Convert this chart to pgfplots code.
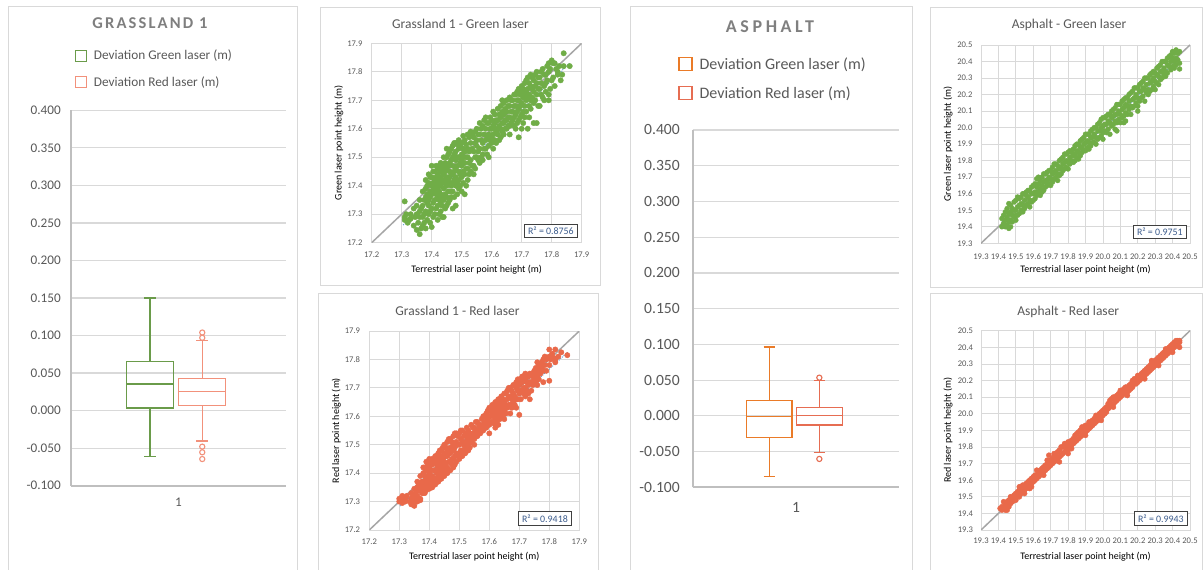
\documentclass[border=0pt]{standalone}
\usepackage{fontspec}
\setmainfont{Carlito}
\usepackage{pgfplots}
\pgfplotsset{compat=1.18}
\usepgfplotslibrary{statistics}
\definecolor{txt}{HTML}{595959}
\definecolor{ttl}{HTML}{7F7F7F}
\definecolor{gridc}{HTML}{D9D9D9}
\definecolor{axisc}{HTML}{BFBFBF}
\definecolor{framec}{HTML}{D9D9D9}
\definecolor{ptgreen}{HTML}{70AD47}
\definecolor{ptred}{HTML}{E9694A}
\definecolor{boxgreenA}{HTML}{6A9B4A}
\definecolor{boxredA}{HTML}{F2917B}
\definecolor{boxgreenD}{HTML}{EA7B28}
\definecolor{boxredD}{HTML}{E66D52}
\definecolor{diagc}{HTML}{A6A6A6}
\definecolor{trendc}{HTML}{5B9BD5}
\definecolor{rtxt}{HTML}{3B5B8C}
\tikzset{rbox/.style={draw=black!75, line width=0.9pt, fill=white, text=rtxt, font=\fontsize{9.9}{12}\selectfont, inner xsep=3.5pt, inner ysep=3pt, anchor=south east}}
\pgfplotsset{
  scat/.style={
    scale only axis, anchor=south west,
    axis line style={draw=gridc, line width=0.8pt},
    grid=major, grid style={draw=gridc, line width=0.8pt},
    major tick length=0pt,
    /pgf/number format/assume math mode=true,
    xticklabel={\pgfmathprintnumber[fixed,fixed zerofill,precision=1]{\tick}},
    yticklabel={\pgfmathprintnumber[fixed,fixed zerofill,precision=1]{\tick}},
    tick label style={font=\fontsize{8.6}{10}\selectfont, text=txt, inner sep=0pt},
    xticklabel style={anchor=center},
    yticklabel style={anchor=east},
    label style={font=\fontsize{9.9}{12}\selectfont, text=txt},
    xlabel={Terrestrial laser point height (m)},
    every axis x label/.style={at={(axis description cs:0.5,-0.134)}, anchor=center},
    every axis y label/.style={at={(axis description cs:-0.157,0.5)}, anchor=center, rotate=90},
  },
  pts/.style={only marks, mark=*, mark size=2.7pt, mark options={draw=#1, fill=#1}},
  diagline/.style={draw=diagc, line width=1.5pt},
  trendline/.style={draw=trendc, line width=0.9pt, dash pattern=on 1pt off 1.2pt},
  boxax/.style={
    scale only axis, anchor=south west,
    xmin=0, xmax=2, ymin=-0.1, ymax=0.4,
    xtick={1}, xticklabels={1},
    ytick={-0.1,-0.05,0,0.05,0.1,0.15,0.2,0.25,0.3,0.35,0.4},
    ymajorgrids, grid style={draw=gridc, line width=1.2pt},
    axis x line*=bottom, axis y line*=left,
    axis line style={draw=axisc, line width=2pt, -},
    major tick length=0pt,
    /pgf/number format/assume math mode=true,
    yticklabel={\pgfmathprintnumber[fixed,fixed zerofill,precision=3]{\tick}},
    tick label style={text=txt, inner sep=0pt},
    yticklabel style={anchor=east},
    xticklabel style={anchor=center},
    boxplot/draw direction=y,
    legend cell align=left,
  },
}
\begin{document}
\begin{tikzpicture}[x=1pt,y=1pt]
\useasboundingbox (0,0) rectangle (1203,570);
\fill[white] (0,0) rectangle (1203,570);
% panel frames
\draw[framec, line width=1pt] (8,-5) rectangle (297.7,563);
\draw[framec, line width=1pt] (320,284.3) rectangle (600.7,562.7);
\draw[framec, line width=1pt] (318,-5) rectangle (598.3,276);
\draw[framec, line width=1pt] (630,-5) rectangle (912.3,563);
\draw[framec, line width=1pt] (930,282.7) rectangle (1202.5,562.7);
\draw[framec, line width=1pt] (930,-5) rectangle (1202.5,276);
% titles
\node[text=ttl, font=\fontsize{16.5}{18}\selectfont\bfseries\addfontfeatures{LetterSpace=13}] at (150,547) {GRASSLAND 1};
\node[text=ttl, font=\fontsize{18}{20}\selectfont\bfseries\addfontfeatures{LetterSpace=20}] at (770,543) {ASPHALT};
\node[text=txt, font=\fontsize{13.5}{15}\selectfont] at (460.5,545.7) {Grassland 1 - Green laser};
\node[text=txt, font=\fontsize{13.5}{15}\selectfont] at (457.5,259) {Grassland 1 - Red laser};
\node[text=txt, font=\fontsize{13.5}{15}\selectfont] at (1069,545) {Asphalt - Green laser};
\node[text=txt, font=\fontsize{13.5}{15}\selectfont] at (1068.3,258.3) {Asphalt - Red laser};

% ---------------- Box plot: Grassland 1
\begin{axis}[boxax, at={(71pt,84.3pt)}, width=215pt, height=375.4pt,
  tick label style={font=\fontsize{13.2}{15}\selectfont},
  yticklabel style={xshift=-10pt}, xticklabel style={yshift=-17pt},
  legend style={at={(axis description cs:0.0186,1.166)}, anchor=north west, draw=none, fill=none, inner sep=0pt, font=\fontsize{13.3}{15}\selectfont, text=txt, row sep=11pt, column sep=5pt}]
\addlegendimage{legend image code/.code={\draw[boxgreenA, line width=1.1pt, fill=white] (0pt,-5.3pt) rectangle (10.6pt,5.3pt);}}
\addlegendentry{Deviation Green laser (m)}
\addlegendimage{legend image code/.code={\draw[boxredA, line width=1.1pt, fill=white] (0pt,-5.3pt) rectangle (10.6pt,5.3pt);}}
\addlegendentry{Deviation Red laser (m)}
\addplot[forget plot, draw=boxgreenA, line width=1.2pt, boxplot prepared={draw position=0.735, box extend=0.44, whisker extend=0.11,
  lower whisker=-0.061, lower quartile=0.0035, median=0.0355, upper quartile=0.065, upper whisker=0.150}] coordinates {};
\addplot[forget plot, draw=boxredA, line width=1.2pt, mark=o, mark size=2.6pt, mark options={draw=boxredA, fill=white, line width=1.1pt},
  boxplot prepared={draw position=1.221, box extend=0.437, whisker extend=0.11,
  lower whisker=-0.0405, lower quartile=0.007, median=0.025, upper quartile=0.0425, upper whisker=0.093}]
  coordinates {(0,0.104) (0,0.097) (0,-0.048) (0,-0.0555) (0,-0.0645)};
\end{axis}

% ---------------- Box plot: Asphalt
\begin{axis}[boxax, at={(692.7pt,82.7pt)}, width=206.6pt, height=357.3pt,
  tick label style={font=\fontsize{15.6}{17}\selectfont},
  yticklabel style={xshift=-12.7pt}, xticklabel style={yshift=-20pt},
  legend style={at={(axis description cs:-0.071,1.209)}, anchor=north west, draw=none, fill=none, inner sep=0pt, font=\fontsize{16}{18}\selectfont, text=txt, row sep=12pt, column sep=5pt}]
\addlegendimage{legend image code/.code={\draw[boxgreenD, line width=1.3pt, fill=white] (0pt,-6.5pt) rectangle (13pt,6.5pt);}}
\addlegendentry{Deviation Green laser (m)}
\addlegendimage{legend image code/.code={\draw[boxredD, line width=1.3pt, fill=white] (0pt,-6.5pt) rectangle (13pt,6.5pt);}}
\addlegendentry{Deviation Red laser (m)}
\addplot[forget plot, draw=boxgreenD, line width=1.4pt, boxplot prepared={draw position=0.741, box extend=0.44, whisker extend=0.11,
  lower whisker=-0.085, lower quartile=-0.0305, median=-0.001, upper quartile=0.0213, upper whisker=0.0964}] coordinates {};
\addplot[forget plot, draw=boxredD, line width=1.4pt, mark=o, mark size=2.6pt, mark options={draw=boxredD, fill=white, line width=1.1pt},
  boxplot prepared={draw position=1.226, box extend=0.448, whisker extend=0.11,
  lower whisker=-0.0515, lower quartile=-0.0128, median=0.0008, upper quartile=0.012, upper whisker=0.0497}]
  coordinates {(0,0.0534) (0,-0.0603)};
\end{axis}

% ---------------- Scatter: Grassland 1 - Green
\begin{axis}[scat, at={(371.7pt,327.3pt)}, width=210pt, height=199.4pt,
  xmin=17.2, xmax=17.9, ymin=17.2, ymax=17.9,
  xtick={17.2,17.3,17.4,17.5,17.6,17.7,17.8,17.9}, ytick={17.2,17.3,17.4,17.5,17.6,17.7,17.8,17.9},
  xticklabel style={yshift=-12.3pt}, yticklabel style={xshift=-9pt},
  ylabel={Green laser point height (m)}]
\addplot[diagline] coordinates {(17.2,17.2) (17.9,17.9)};
\addplot[pts=ptgreen] coordinates {
(17.31,17.345)(17.31,17.29)(17.31,17.28)(17.32,17.27)(17.33,17.30)(17.33,17.285)
(17.34,17.32)(17.34,17.26)(17.35,17.30)(17.35,17.245)(17.35,17.33)
(17.36,17.23)(17.36,17.35)(17.36,17.29)(17.36,17.31)
(17.37,17.38)(17.37,17.33)(17.37,17.26)(17.37,17.29)
(17.38,17.39)(17.38,17.25)(17.38,17.36)(17.38,17.31)(17.38,17.42)
(17.39,17.41)(17.39,17.30)(17.39,17.35)(17.39,17.44)(17.39,17.33)
(17.40,17.47)(17.40,17.40)(17.40,17.255)(17.40,17.37)(17.40,17.32)(17.40,17.43)
(17.41,17.42)(17.41,17.35)(17.41,17.45)(17.41,17.38)(17.41,17.30)(17.41,17.39)
(17.42,17.44)(17.42,17.28)(17.42,17.36)(17.42,17.41)(17.42,17.33)(17.42,17.46)(17.42,17.39)
(17.43,17.40)(17.43,17.34)(17.43,17.48)(17.43,17.37)(17.43,17.43)(17.43,17.31)(17.43,17.45)
(17.44,17.47)(17.44,17.35)(17.44,17.42)(17.44,17.29)(17.44,17.39)(17.44,17.50)(17.44,17.44)
(17.45,17.50)(17.45,17.43)(17.45,17.36)(17.45,17.46)(17.45,17.40)(17.45,17.33)(17.45,17.53)
(17.46,17.52)(17.46,17.38)(17.46,17.45)(17.46,17.41)(17.46,17.48)(17.46,17.35)(17.46,17.43)
(17.47,17.54)(17.47,17.47)(17.47,17.41)(17.47,17.50)(17.47,17.32)(17.47,17.44)(17.47,17.38)
(17.48,17.55)(17.48,17.49)(17.48,17.43)(17.48,17.52)(17.48,17.33)(17.48,17.40)(17.48,17.46)
(17.49,17.56)(17.49,17.45)(17.49,17.50)(17.49,17.42)(17.49,17.39)(17.49,17.53)
(17.50,17.55)(17.50,17.47)(17.50,17.51)(17.50,17.43)(17.50,17.38)(17.50,17.49)
(17.51,17.52)(17.51,17.44)(17.51,17.48)(17.51,17.37)(17.51,17.56)
(17.52,17.58)(17.52,17.50)(17.52,17.46)(17.52,17.42)(17.52,17.53)
(17.53,17.55)(17.53,17.49)(17.53,17.45)(17.53,17.59)
(17.54,17.57)(17.54,17.52)(17.54,17.47)(17.54,17.44)
(17.55,17.60)(17.55,17.54)(17.55,17.50)(17.55,17.56)
(17.56,17.58)(17.56,17.53)(17.56,17.48)(17.56,17.62)
(17.57,17.61)(17.57,17.55)(17.57,17.51)(17.57,17.49)
(17.58,17.60)(17.58,17.56)(17.58,17.53)(17.58,17.64)
(17.59,17.62)(17.59,17.58)(17.59,17.54)(17.59,17.50)
(17.60,17.63)(17.60,17.57)(17.60,17.60)(17.60,17.55)
(17.61,17.65)(17.61,17.60)(17.61,17.56)(17.61,17.62)
(17.62,17.67)(17.62,17.63)(17.62,17.58)(17.62,17.60)
(17.63,17.64)(17.63,17.60)(17.63,17.68)(17.63,17.57)
(17.64,17.69)(17.64,17.65)(17.64,17.62)(17.64,17.58)
(17.65,17.70)(17.65,17.66)(17.65,17.63)(17.65,17.60)
(17.66,17.68)(17.66,17.64)(17.66,17.71)(17.66,17.61)(17.66,17.58)
(17.67,17.70)(17.67,17.66)(17.67,17.63)
(17.68,17.72)(17.68,17.68)(17.68,17.65)(17.68,17.60)
(17.69,17.74)(17.69,17.70)(17.69,17.67)(17.69,17.63)(17.69,17.57)
(17.70,17.73)(17.70,17.69)(17.70,17.65)(17.70,17.75)(17.70,17.60)
(17.71,17.76)(17.71,17.72)(17.71,17.68)(17.71,17.64)
(17.72,17.78)(17.72,17.74)(17.72,17.71)(17.72,17.60)
(17.73,17.79)(17.73,17.75)(17.73,17.70)(17.73,17.67)
(17.74,17.77)(17.74,17.73)(17.74,17.69)(17.74,17.62)
(17.75,17.80)(17.75,17.76)(17.75,17.62)(17.75,17.72)
(17.76,17.78)(17.76,17.68)(17.76,17.74)
(17.77,17.81)(17.77,17.71)
(17.78,17.79)(17.78,17.73)(17.78,17.76)
(17.79,17.83)(17.79,17.80)(17.79,17.70)(17.79,17.72)
(17.80,17.84)(17.80,17.77)(17.81,17.83)(17.81,17.75)
(17.82,17.80)(17.82,17.79)(17.83,17.77)
(17.84,17.865)(17.84,17.82)(17.86,17.82)
(17.315,17.30)(17.325,17.28)(17.345,17.29)(17.355,17.27)(17.365,17.32)(17.365,17.25)
(17.375,17.35)(17.375,17.30)(17.375,17.27)
(17.385,17.40)(17.385,17.34)(17.385,17.28)(17.385,17.37)
(17.395,17.43)(17.395,17.38)(17.395,17.31)(17.395,17.36)(17.395,17.27)
(17.405,17.45)(17.405,17.41)(17.405,17.34)(17.405,17.29)(17.405,17.385)
(17.415,17.47)(17.415,17.43)(17.415,17.37)(17.415,17.32)(17.415,17.40)
(17.425,17.42)(17.425,17.38)(17.425,17.35)(17.425,17.30)(17.425,17.47)
(17.435,17.46)(17.435,17.41)(17.435,17.36)(17.435,17.33)(17.435,17.29)
(17.445,17.48)(17.445,17.45)(17.445,17.41)(17.445,17.37)(17.445,17.32)
(17.455,17.51)(17.455,17.47)(17.455,17.42)(17.455,17.38)(17.455,17.34)
(17.465,17.53)(17.465,17.49)(17.465,17.44)(17.465,17.40)(17.465,17.36)
(17.475,17.55)(17.475,17.51)(17.475,17.45)(17.475,17.42)(17.475,17.36)
(17.485,17.545)(17.485,17.50)(17.485,17.47)(17.485,17.41)(17.485,17.37)
(17.495,17.54)(17.495,17.48)(17.495,17.44)(17.495,17.40)
(17.505,17.53)(17.505,17.50)(17.505,17.45)(17.505,17.41)(17.505,17.575)
(17.515,17.545)(17.515,17.50)(17.515,17.46)(17.515,17.40)
(17.525,17.57)(17.525,17.52)(17.525,17.48)(17.525,17.44)
(17.535,17.58)(17.535,17.53)(17.535,17.47)
(17.545,17.59)(17.545,17.55)(17.545,17.50)(17.545,17.46)
(17.555,17.58)(17.555,17.52)(17.555,17.49)
(17.565,17.60)(17.565,17.56)(17.565,17.50)
(17.575,17.63)(17.575,17.58)(17.575,17.53)
(17.585,17.62)(17.585,17.57)(17.585,17.51)
(17.595,17.64)(17.595,17.60)(17.595,17.56)
(17.605,17.66)(17.605,17.61)(17.605,17.58)(17.605,17.53)
(17.615,17.63)(17.615,17.59)(17.615,17.55)
(17.625,17.65)(17.625,17.61)(17.625,17.56)
(17.635,17.70)(17.635,17.66)(17.635,17.62)(17.635,17.59)
(17.645,17.67)(17.645,17.63)(17.645,17.60)
(17.655,17.68)(17.655,17.64)(17.655,17.61)
(17.665,17.70)(17.665,17.66)(17.665,17.62)
(17.675,17.72)(17.675,17.68)(17.675,17.64)(17.675,17.61)
(17.685,17.73)(17.685,17.70)(17.685,17.66)(17.685,17.62)
(17.695,17.72)(17.695,17.68)(17.695,17.64)
(17.705,17.74)(17.705,17.71)(17.705,17.66)(17.705,17.62)
(17.715,17.77)(17.715,17.73)(17.715,17.70)(17.715,17.66)
(17.725,17.76)(17.725,17.72)(17.725,17.68)(17.725,17.64)
(17.735,17.78)(17.735,17.74)(17.735,17.71)
(17.745,17.79)(17.745,17.75)(17.745,17.70)
(17.755,17.78)(17.755,17.74)(17.755,17.68)
(17.765,17.80)(17.765,17.76)(17.765,17.72)
(17.775,17.79)(17.775,17.75)(17.775,17.70)
(17.785,17.82)(17.785,17.77)(17.795,17.81)(17.795,17.74)
(17.805,17.83)(17.805,17.78)(17.815,17.81)(17.825,17.82)(17.835,17.79)
};
\addplot[trendline] coordinates {(17.305,17.262) (17.862,17.833)};
\node[rbox] at (rel axis cs:0.981,0.022) {R² = 0.8756};
\end{axis}

% ---------------- Scatter: Grassland 1 - Red
\begin{axis}[scat, at={(369.3pt,40pt)}, width=210pt, height=199pt,
  xmin=17.2, xmax=17.9, ymin=17.2, ymax=17.9,
  xtick={17.2,17.3,17.4,17.5,17.6,17.7,17.8,17.9}, ytick={17.2,17.3,17.4,17.5,17.6,17.7,17.8,17.9},
  xticklabel style={yshift=-11.7pt}, yticklabel style={xshift=-9pt},
  ylabel={Red laser point height (m)}]
\addplot[diagline] coordinates {(17.2,17.2) (17.9,17.9)};
\addplot[pts=ptred] coordinates {
(17.30,17.31)(17.30,17.30)(17.31,17.32)(17.31,17.295)(17.32,17.31)(17.32,17.30)
(17.34,17.33)(17.34,17.31)(17.34,17.29)
(17.35,17.345)(17.35,17.285)(17.35,17.32)(17.35,17.30)
(17.36,17.35)(17.36,17.32)(17.36,17.30)(17.36,17.37)
(17.37,17.39)(17.37,17.34)(17.37,17.31)(17.37,17.36)(17.37,17.305)
(17.38,17.42)(17.38,17.37)(17.38,17.33)(17.38,17.35)(17.38,17.40)
(17.39,17.44)(17.39,17.38)(17.39,17.34)(17.39,17.41)(17.39,17.36)
(17.40,17.45)(17.40,17.40)(17.40,17.36)(17.40,17.42)(17.40,17.345)(17.40,17.38)
(17.41,17.43)(17.41,17.39)(17.41,17.37)(17.41,17.45)(17.41,17.35)
(17.42,17.46)(17.42,17.41)(17.42,17.38)(17.42,17.44)(17.42,17.36)
(17.43,17.45)(17.43,17.42)(17.43,17.39)(17.43,17.47)(17.43,17.37)
(17.44,17.48)(17.44,17.43)(17.44,17.40)(17.44,17.46)(17.44,17.38)
(17.45,17.50)(17.45,17.44)(17.45,17.41)(17.45,17.47)(17.45,17.39)
(17.46,17.51)(17.46,17.46)(17.46,17.42)(17.46,17.48)(17.46,17.40)
(17.47,17.52)(17.47,17.47)(17.47,17.44)(17.47,17.49)(17.47,17.41)
(17.48,17.53)(17.48,17.48)(17.48,17.45)(17.48,17.50)(17.48,17.42)
(17.49,17.51)(17.49,17.47)(17.49,17.44)(17.49,17.54)
(17.50,17.54)(17.50,17.50)(17.50,17.47)(17.50,17.45)
(17.51,17.55)(17.51,17.51)(17.51,17.48)(17.51,17.46)
(17.52,17.54)(17.52,17.51)(17.52,17.49)(17.52,17.47)
(17.53,17.55)(17.53,17.52)(17.53,17.50)(17.53,17.48)
(17.54,17.57)(17.54,17.53)(17.54,17.51)
(17.55,17.56)(17.55,17.54)(17.55,17.52)(17.55,17.50)
(17.56,17.58)(17.56,17.55)(17.56,17.53)
(17.57,17.57)(17.57,17.56)(17.57,17.54)
(17.58,17.60)(17.58,17.57)(17.58,17.55)
(17.59,17.61)(17.59,17.58)(17.59,17.56)
(17.60,17.63)(17.60,17.60)(17.60,17.57)(17.60,17.54)
(17.61,17.64)(17.61,17.61)(17.61,17.58)
(17.62,17.65)(17.62,17.62)(17.62,17.59)(17.62,17.56)
(17.63,17.66)(17.63,17.63)(17.63,17.60)(17.63,17.57)
(17.64,17.67)(17.64,17.64)(17.64,17.61)
(17.65,17.68)(17.65,17.65)(17.65,17.62)(17.65,17.59)
(17.66,17.69)(17.66,17.66)(17.66,17.63)
(17.67,17.70)(17.67,17.67)(17.67,17.64)(17.67,17.61)
(17.68,17.71)(17.68,17.68)(17.68,17.65)
(17.69,17.72)(17.69,17.70)(17.69,17.66)(17.69,17.63)
(17.70,17.73)(17.70,17.71)(17.70,17.68)(17.70,17.605)
(17.71,17.74)(17.71,17.72)(17.71,17.69)
(17.72,17.75)(17.72,17.73)(17.72,17.70)(17.72,17.67)
(17.73,17.74)(17.73,17.71)(17.73,17.68)
(17.74,17.75)(17.74,17.72)(17.74,17.69)
(17.75,17.76)(17.75,17.73)
(17.76,17.79)(17.76,17.74)(17.76,17.71)
(17.77,17.78)(17.77,17.75)
(17.78,17.80)(17.78,17.76)(17.78,17.72)
(17.79,17.80)(17.79,17.76)
(17.80,17.835)(17.80,17.81)(17.80,17.78)(17.80,17.725)
(17.82,17.835)(17.82,17.80)(17.82,17.79)
(17.84,17.825)(17.86,17.815)
(17.305,17.305)(17.315,17.31)(17.325,17.32)(17.335,17.30)(17.345,17.32)(17.345,17.30)
(17.355,17.33)(17.355,17.31)(17.365,17.34)(17.365,17.31)(17.365,17.36)
(17.375,17.37)(17.375,17.33)(17.375,17.35)
(17.385,17.39)(17.385,17.35)(17.385,17.42)(17.385,17.33)
(17.395,17.43)(17.395,17.39)(17.395,17.37)(17.395,17.35)
(17.405,17.44)(17.405,17.41)(17.405,17.38)(17.405,17.35)
(17.415,17.44)(17.415,17.41)(17.415,17.38)(17.415,17.36)
(17.425,17.46)(17.425,17.43)(17.425,17.40)(17.425,17.37)
(17.435,17.48)(17.435,17.44)(17.435,17.41)(17.435,17.38)
(17.445,17.49)(17.445,17.45)(17.445,17.42)(17.445,17.39)
(17.455,17.49)(17.455,17.46)(17.455,17.43)(17.455,17.40)
(17.465,17.52)(17.465,17.47)(17.465,17.44)(17.465,17.41)
(17.475,17.51)(17.475,17.48)(17.475,17.45)(17.475,17.43)
(17.485,17.54)(17.485,17.49)(17.485,17.46)(17.485,17.43)
(17.495,17.53)(17.495,17.50)(17.495,17.46)
(17.505,17.55)(17.505,17.52)(17.505,17.48)(17.505,17.46)
(17.515,17.53)(17.515,17.50)(17.515,17.47)
(17.525,17.56)(17.525,17.53)(17.525,17.50)(17.525,17.48)
(17.535,17.54)(17.535,17.51)(17.535,17.49)
(17.545,17.56)(17.545,17.54)(17.545,17.52)
(17.555,17.58)(17.555,17.55)(17.555,17.53)
(17.565,17.57)(17.565,17.55)(17.565,17.545)
(17.575,17.59)(17.575,17.56)(17.575,17.55)
(17.585,17.60)(17.585,17.58)(17.585,17.56)
(17.595,17.62)(17.595,17.59)(17.595,17.57)
(17.605,17.62)(17.605,17.60)(17.605,17.58)
(17.615,17.63)(17.615,17.60)(17.615,17.575)
(17.625,17.64)(17.625,17.61)(17.625,17.58)
(17.635,17.65)(17.635,17.62)(17.635,17.59)
(17.645,17.66)(17.645,17.63)(17.645,17.60)
(17.655,17.68)(17.655,17.64)(17.655,17.61)
(17.665,17.70)(17.665,17.67)(17.665,17.64)
(17.675,17.69)(17.675,17.66)(17.675,17.63)
(17.685,17.71)(17.685,17.67)(17.685,17.64)
(17.695,17.73)(17.695,17.69)(17.695,17.66)
(17.705,17.72)(17.705,17.69)(17.705,17.66)
(17.715,17.73)(17.715,17.70)(17.715,17.68)
(17.725,17.74)(17.725,17.72)(17.725,17.69)
(17.735,17.75)(17.735,17.72)(17.735,17.66)
(17.745,17.74)(17.745,17.71)
(17.755,17.77)(17.755,17.75)(17.755,17.72)
(17.765,17.78)(17.765,17.76)(17.765,17.73)
(17.775,17.79)(17.775,17.77)(17.785,17.81)(17.785,17.78)
(17.805,17.80)(17.81,17.82)(17.815,17.805)(17.83,17.81)
};
\addplot[trendline] coordinates {(17.302,17.284) (17.863,17.827)};
\node[rbox] at (rel axis cs:0.964,0.022) {R² = 0.9418};
\end{axis}

% ---------------- Scatter: Asphalt - Green
\begin{axis}[scat, at={(981pt,326.7pt)}, width=209pt, height=198.3pt,
  xmin=19.3, xmax=20.5, ymin=19.3, ymax=20.5,
  xtick={19.3,19.4,19.5,19.6,19.7,19.8,19.9,20.0,20.1,20.2,20.3,20.4,20.5},
  ytick={19.3,19.4,19.5,19.6,19.7,19.8,19.9,20.0,20.1,20.2,20.3,20.4,20.5},
  xticklabel style={yshift=-13.4pt}, yticklabel style={xshift=-8.3pt},
  ylabel={Green laser point height (m)}]
\addplot[diagline] coordinates {(19.3,19.3) (20.5,20.5)};
\addplot[pts=ptgreen, mark size=2.5pt] coordinates {
(19.42,19.45)(19.42,19.40)(19.44,19.49)(19.44,19.40)(19.44,19.44)
(19.46,19.54)(19.46,19.39)(19.46,19.48)(19.46,19.43)
(19.48,19.51)(19.48,19.43)(19.48,19.47)
(19.50,19.56)(19.50,19.44)(19.50,19.50)(19.50,19.47)
(19.52,19.57)(19.52,19.48)(19.52,19.53)
(19.54,19.60)(19.54,19.49)(19.54,19.53)
(19.56,19.59)(19.56,19.53)(19.56,19.61)
(19.58,19.62)(19.58,19.56)(19.58,19.52)
(19.60,19.65)(19.60,19.60)(19.60,19.56)
(19.62,19.69)(19.62,19.64)(19.62,19.59)
(19.64,19.68)(19.64,19.63)(19.64,19.59)
(19.66,19.72)(19.66,19.67)(19.66,19.62)
(19.68,19.73)(19.68,19.68)(19.68,19.65)
(19.70,19.74)(19.70,19.69)(19.70,19.65)
(19.72,19.78)(19.72,19.73)(19.72,19.69)
(19.74,19.77)(19.74,19.72)(19.74,19.68)
(19.76,19.81)(19.76,19.76)(19.76,19.72)
(19.78,19.84)(19.78,19.79)(19.78,19.75)
(19.80,19.85)(19.80,19.79)(19.80,19.75)
(19.82,19.85)(19.82,19.80)
(19.84,19.89)(19.84,19.84)(19.84,19.80)
(19.86,19.90)(19.86,19.85)(19.86,19.81)
(19.88,19.93)(19.88,19.88)(19.88,19.85)
(19.90,19.96)(19.90,19.91)(19.90,19.86)
(19.92,19.96)(19.92,19.91)(19.92,19.87)
(19.94,19.99)(19.94,19.94)(19.94,19.91)
(19.96,20.00)(19.96,19.94)(19.96,19.90)
(19.98,20.03)(19.98,19.98)(19.98,19.94)
(20.00,20.06)(20.00,20.01)(20.00,19.97)(20.00,19.93)
(20.02,20.07)(20.02,20.02)(20.02,19.97)
(20.04,20.08)(20.04,20.03)(20.04,19.96)
(20.06,20.11)(20.06,20.07)(20.06,20.02)
(20.08,20.14)(20.08,20.08)(20.08,20.03)(20.08,19.98)
(20.10,20.14)(20.10,20.08)(20.10,20.03)
(20.12,20.17)(20.12,20.12)(20.12,20.07)(20.12,20.03)
(20.14,20.18)(20.14,20.13)(20.14,20.08)
(20.16,20.21)(20.16,20.13)(20.16,20.08)
(20.18,20.24)(20.18,20.18)(20.18,20.13)
(20.20,20.24)(20.20,20.18)(20.20,20.13)(20.20,20.10)
(20.22,20.27)(20.22,20.22)(20.22,20.18)
(20.24,20.30)(20.24,20.23)(20.24,20.16)
(20.26,20.30)(20.26,20.23)(20.26,20.20)
(20.28,20.33)(20.28,20.28)(20.28,20.23)
(20.30,20.33)(20.30,20.28)(20.30,20.23)
(20.32,20.37)(20.32,20.31)(20.32,20.26)
(20.34,20.40)(20.34,20.34)(20.34,20.30)
(20.36,20.40)(20.36,20.34)(20.36,20.31)
(20.38,20.43)(20.38,20.37)
(20.40,20.46)(20.40,20.42)(20.40,20.37)
(20.42,20.47)(20.42,20.42)(20.42,20.38)
(20.44,20.46)(20.44,20.39)(20.44,20.355)
(19.43,19.47)(19.43,19.42)(19.45,19.51)(19.45,19.46)(19.45,19.41)
(19.47,19.53)(19.47,19.49)(19.47,19.44)(19.47,19.40)
(19.49,19.55)(19.49,19.50)(19.49,19.46)(19.51,19.58)(19.51,19.52)(19.51,19.47)
(19.53,19.58)(19.53,19.54)(19.53,19.50)(19.55,19.60)(19.55,19.56)(19.55,19.51)
(19.57,19.62)(19.57,19.58)(19.57,19.54)(19.59,19.64)(19.59,19.60)(19.59,19.55)
(19.61,19.66)(19.61,19.61)(19.61,19.57)(19.63,19.70)(19.63,19.66)(19.63,19.61)
(19.65,19.70)(19.65,19.65)(19.65,19.61)(19.67,19.72)(19.67,19.68)(19.67,19.64)
(19.69,19.74)(19.69,19.70)(19.69,19.66)(19.71,19.76)(19.71,19.72)(19.71,19.67)
(19.73,19.78)(19.73,19.74)(19.73,19.70)(19.75,19.80)(19.75,19.75)(19.75,19.71)
(19.77,19.82)(19.77,19.78)(19.77,19.74)(19.79,19.84)(19.79,19.80)(19.79,19.76)
(19.81,19.86)(19.81,19.82)(19.81,19.78)(19.83,19.87)(19.83,19.83)(19.83,19.79)
(19.85,19.90)(19.85,19.86)(19.85,19.82)(19.87,19.92)(19.87,19.88)(19.87,19.83)
(19.89,19.94)(19.89,19.90)(19.89,19.86)(19.91,19.96)(19.91,19.92)(19.91,19.88)
(19.93,19.98)(19.93,19.94)(19.93,19.89)(19.95,20.00)(19.95,19.96)(19.95,19.91)
(19.97,20.02)(19.97,19.98)(19.97,19.93)(19.99,20.05)(19.99,20.00)(19.99,19.95)
(20.01,20.06)(20.01,20.02)(20.01,19.98)(20.03,20.08)(20.03,20.04)(20.03,19.99)
(20.05,20.10)(20.05,20.06)(20.05,20.01)(20.07,20.12)(20.07,20.08)(20.07,20.04)(20.07,19.99)
(20.09,20.14)(20.09,20.10)(20.09,20.05)(20.11,20.16)(20.11,20.11)(20.11,20.06)
(20.13,20.18)(20.13,20.14)(20.13,20.09)(20.13,20.04)(20.15,20.20)(20.15,20.16)(20.15,20.11)
(20.17,20.22)(20.17,20.17)(20.17,20.12)(20.19,20.24)(20.19,20.20)(20.19,20.15)
(20.21,20.26)(20.21,20.22)(20.21,20.16)(20.23,20.28)(20.23,20.24)(20.23,20.19)
(20.25,20.30)(20.25,20.26)(20.25,20.21)(20.27,20.32)(20.27,20.27)(20.27,20.22)
(20.29,20.34)(20.29,20.30)(20.29,20.25)(20.31,20.36)(20.31,20.32)(20.31,20.27)
(20.33,20.38)(20.33,20.34)(20.33,20.29)(20.35,20.40)(20.35,20.36)(20.35,20.32)
(20.37,20.42)(20.37,20.38)(20.37,20.33)(20.39,20.44)(20.39,20.40)(20.39,20.35)
(20.41,20.45)(20.41,20.40)(20.41,20.36)(20.43,20.45)(20.43,20.41)
};
\addplot[trendline] coordinates {(19.42,19.43) (20.44,20.42)};
\node[rbox] at (rel axis cs:0.984,0.02) {R² = 0.9751};
\end{axis}

% ---------------- Scatter: Asphalt - Red
\begin{axis}[scat, at={(981pt,40pt)}, width=209pt, height=199.3pt,
  xmin=19.3, xmax=20.5, ymin=19.3, ymax=20.5,
  xtick={19.3,19.4,19.5,19.6,19.7,19.8,19.9,20.0,20.1,20.2,20.3,20.4,20.5},
  ytick={19.3,19.4,19.5,19.6,19.7,19.8,19.9,20.0,20.1,20.2,20.3,20.4,20.5},
  xticklabel style={yshift=-10.5pt}, yticklabel style={xshift=-7.7pt},
  ylabel={Red laser point height (m)}]
\addplot[diagline] coordinates {(19.3,19.3) (20.5,20.5)};
\addplot[pts=ptred, mark size=2.6pt] coordinates {
(19.42,19.44)(19.42,19.42)(19.43,19.47)(19.43,19.43)(19.44,19.45)(19.44,19.42)
(19.46,19.48)(19.46,19.44)(19.47,19.50)(19.47,19.46)(19.48,19.49)(19.48,19.47)
(19.50,19.52)(19.50,19.48)(19.50,19.50)(19.52,19.54)(19.52,19.50)
(19.53,19.56)(19.53,19.52)(19.54,19.57)(19.54,19.53)(19.56,19.58)(19.56,19.55)
(19.58,19.60)(19.58,19.56)(19.58,19.55)(19.60,19.62)(19.60,19.59)
(19.62,19.63)(19.62,19.61)(19.64,19.66)(19.64,19.63)(19.66,19.68)(19.66,19.65)
(19.68,19.70)(19.68,19.67)(19.68,19.72)(19.69,19.75)(19.70,19.72)(19.70,19.69)
(19.72,19.74)(19.72,19.71)(19.74,19.77)(19.74,19.73)(19.76,19.80)(19.76,19.75)
(19.78,19.81)(19.78,19.77)(19.80,19.83)(19.80,19.78)(19.80,19.76)
(19.82,19.84)(19.82,19.81)(19.84,19.87)(19.84,19.83)(19.86,19.89)(19.86,19.85)
(19.88,19.91)(19.88,19.87)(19.90,19.93)(19.90,19.89)(19.92,19.95)(19.92,19.91)
(19.94,19.96)(19.94,19.93)(19.96,19.98)(19.96,19.95)(19.98,20.00)(19.98,19.97)
(20.00,20.02)(20.00,19.99)(20.02,20.04)(20.02,20.01)(20.04,20.08)(20.04,20.04)
(20.06,20.10)(20.06,20.06)(20.08,20.11)(20.08,20.08)(20.10,20.13)(20.10,20.10)
(20.12,20.15)(20.12,20.12)(20.14,20.16)(20.14,20.13)(20.16,20.18)(20.16,20.15)
(20.18,20.21)(20.18,20.18)(20.20,20.22)(20.20,20.19)(20.22,20.24)(20.22,20.21)
(20.24,20.26)(20.24,20.23)(20.26,20.28)(20.26,20.25)(20.28,20.31)(20.28,20.27)
(20.30,20.32)(20.30,20.29)(20.32,20.34)(20.32,20.31)(20.34,20.36)(20.34,20.33)
(20.36,20.38)(20.36,20.35)(20.38,20.40)(20.38,20.37)(20.40,20.42)(20.40,20.39)
(20.42,20.44)(20.42,20.41)(20.44,20.43)(20.44,20.40)
(19.41,19.43)(19.45,19.47)(19.45,19.44)(19.45,19.42)(19.49,19.51)(19.49,19.48)
(19.51,19.53)(19.51,19.50)(19.55,19.57)(19.55,19.54)(19.57,19.59)(19.57,19.56)
(19.59,19.61)(19.59,19.58)(19.59,19.56)(19.61,19.63)(19.61,19.60)
(19.63,19.65)(19.63,19.62)(19.65,19.67)(19.65,19.64)(19.67,19.69)(19.67,19.66)
(19.69,19.71)(19.69,19.68)(19.71,19.73)(19.71,19.70)(19.73,19.75)(19.73,19.72)
(19.75,19.78)(19.75,19.74)(19.77,19.80)(19.77,19.76)(19.79,19.81)(19.79,19.78)
(19.81,19.83)(19.81,19.80)(19.83,19.85)(19.83,19.82)(19.85,19.88)(19.85,19.84)
(19.87,19.90)(19.87,19.86)(19.89,19.92)(19.89,19.88)(19.91,19.93)(19.91,19.90)
(19.93,19.95)(19.93,19.92)(19.95,19.97)(19.95,19.94)(19.97,19.99)(19.97,19.96)
(19.99,20.01)(19.99,19.98)(20.01,20.03)(20.01,20.00)(20.03,20.06)(20.03,20.03)
(20.05,20.09)(20.05,20.05)(20.07,20.10)(20.07,20.07)(20.09,20.12)(20.09,20.09)
(20.11,20.14)(20.11,20.11)(20.13,20.16)(20.13,20.12)(20.15,20.17)(20.15,20.14)
(20.17,20.20)(20.17,20.16)(20.19,20.21)(20.19,20.18)(20.21,20.23)(20.21,20.20)
(20.23,20.25)(20.23,20.22)(20.25,20.27)(20.25,20.24)(20.27,20.29)(20.27,20.26)
(20.29,20.31)(20.29,20.28)(20.31,20.33)(20.31,20.30)(20.33,20.35)(20.33,20.32)
(20.35,20.37)(20.35,20.34)(20.37,20.39)(20.37,20.36)(20.39,20.41)(20.39,20.38)
(20.41,20.43)(20.41,20.40)(20.43,20.44)(20.43,20.41)
(19.52,19.56)(19.55,19.52)(19.62,19.66)(19.66,19.63)(19.72,19.76)(19.75,19.71)
(19.78,19.82)(19.82,19.79)(19.88,19.92)(19.90,19.87)(19.96,19.99)(19.99,19.96)
(20.06,20.04)(20.10,20.14)(20.14,20.11)(20.20,20.23)(20.24,20.21)(20.28,20.32)
(20.32,20.29)(20.36,20.39)(20.40,20.37)(20.44,20.44)
};
\addplot[trendline] coordinates {(19.42,19.42) (20.44,20.43)};
\node[rbox] at (rel axis cs:0.989,0.02) {R² = 0.9943};
\end{axis}
\end{tikzpicture}
\end{document}
